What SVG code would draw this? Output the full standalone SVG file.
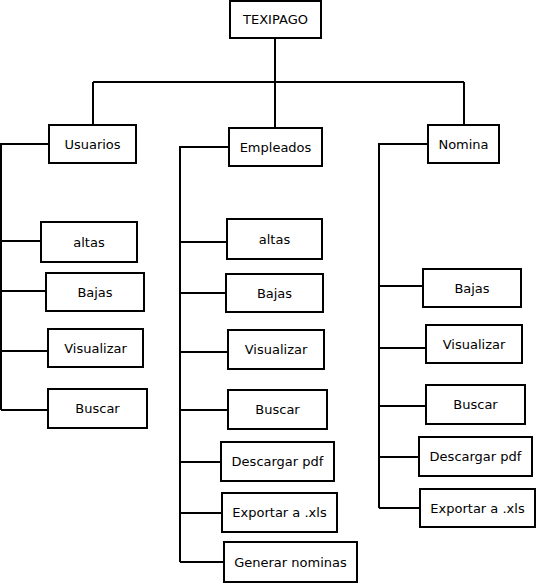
<svg xmlns="http://www.w3.org/2000/svg" width="536" height="583" viewBox="0 0 536 583">
<style>
rect{fill:#fff;stroke:#000;stroke-width:2}
text{font-family:"DejaVu Sans",sans-serif;font-size:13px;text-anchor:middle;dominant-baseline:central;fill:#000}
.c path{fill:none;stroke:#000;stroke-width:2}
</style>
<rect x="0" y="0" width="536" height="583" style="stroke:none"/>
<g class="c" id="connectors">
<path d="M275,38V82M93,82H464M93,82V125M275,82V128M464,82V125"/>
<path d="M49,144H1V410M1,241H41M1,291H46M1,351H48M1,410H48"/>
<path d="M229,147H180V562M180,242H227M180,293H226M180,352H228M180,410H228M180,462H221M180,513H222M180,562H224"/>
<path d="M428,144H379V508M379,286H423M379,348H426M379,406H426M379,457H419M379,508H420"/>
</g>
<g id="texipago"><rect x="230" y="1" width="91" height="37"/><text x="275.5" y="19.5">TEXIPAGO</text></g>
<g id="usuarios"><rect x="49" y="125" width="87" height="38"/><text x="92.5" y="144">Usuarios</text></g>
<g id="empleados"><rect x="229" y="128" width="93" height="38"/><text x="275.5" y="147">Empleados</text></g>
<g id="nomina"><rect x="428" y="125" width="71" height="38"/><text x="463.5" y="144">Nomina</text></g>
<g id="u-altas"><rect x="41" y="222" width="96" height="40"/><text x="89" y="242">altas</text></g>
<g id="u-bajas"><rect x="46" y="273" width="98" height="38"/><text x="95" y="292">Bajas</text></g>
<g id="u-visualizar"><rect x="48" y="329" width="95" height="38"/><text x="95.5" y="348">Visualizar</text></g>
<g id="u-buscar"><rect x="48" y="389" width="99" height="39"/><text x="97.5" y="408.5">Buscar</text></g>
<g id="e-altas"><rect x="227" y="219" width="95" height="40"/><text x="274.5" y="239">altas</text></g>
<g id="e-bajas"><rect x="226" y="274" width="97" height="38"/><text x="274.5" y="293">Bajas</text></g>
<g id="e-visualizar"><rect x="228" y="330" width="96" height="39"/><text x="276" y="349.5">Visualizar</text></g>
<g id="e-buscar"><rect x="228" y="390" width="99" height="39"/><text x="277.5" y="409.5">Buscar</text></g>
<g id="e-descargar"><rect x="221" y="442" width="113" height="39"/><text x="277.5" y="461.5">Descargar pdf</text></g>
<g id="e-exportar"><rect x="222" y="493" width="115" height="39"/><text x="279.5" y="512.5">Exportar a .xls</text></g>
<g id="e-generar"><rect x="224" y="542" width="133" height="40"/><text x="290.5" y="562">Generar nominas</text></g>
<g id="n-bajas"><rect x="423" y="269" width="98" height="38"/><text x="472" y="288">Bajas</text></g>
<g id="n-visualizar"><rect x="426" y="325" width="96" height="38"/><text x="474" y="344">Visualizar</text></g>
<g id="n-buscar"><rect x="426" y="385" width="99" height="39"/><text x="475.5" y="404.5">Buscar</text></g>
<g id="n-descargar"><rect x="419" y="437" width="113" height="39"/><text x="475.5" y="456.5">Descargar pdf</text></g>
<g id="n-exportar"><rect x="420" y="489" width="115" height="38"/><text x="477.5" y="508">Exportar a .xls</text></g>
</svg>
